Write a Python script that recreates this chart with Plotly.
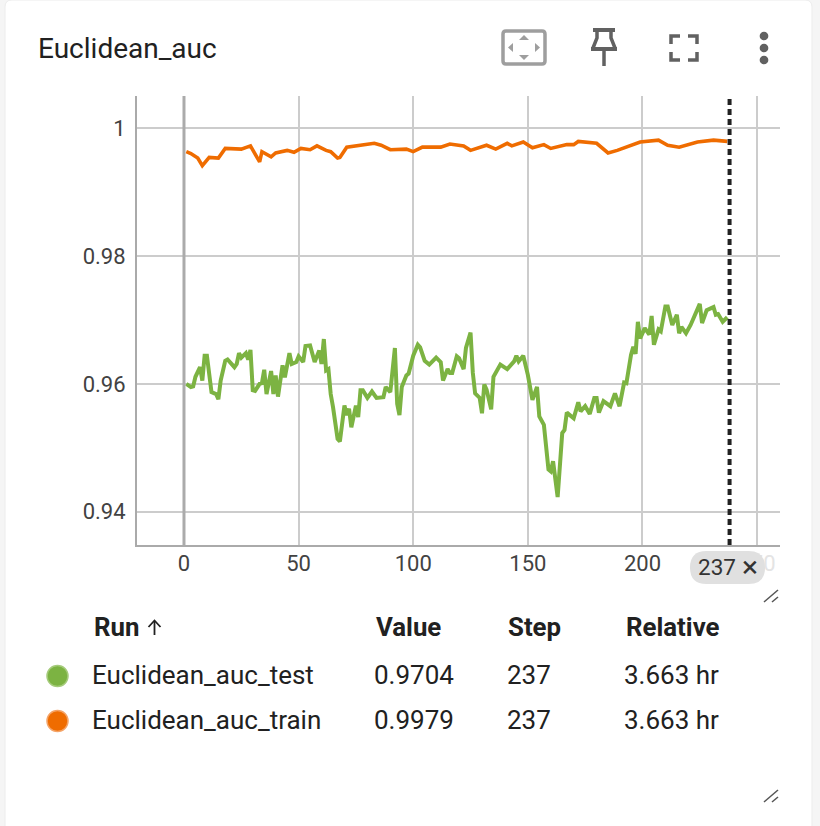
import plotly.graph_objects as go

TITLE = "Euclidean_auc"
X_TICKS = [0, 50, 100, 150, 200, 250]
Y_TICKS = [0.94, 0.96, 0.98, 1]
Y_LABELS = ["0.94", "0.96", "0.98", "1"]
CURRENT_STEP = 237
HEADERS = ["Run", "Value", "Step", "Relative"]
SORT_ARROW = "\u2191"
RUNS = ["Euclidean_auc_test", "Euclidean_auc_train"]
VALUES = ["0.9704", "0.9979"]
STEPS_TXT = ["237", "237"]
RELATIVE = ["3.663 hr", "3.663 hr"]

test_steps = [1,3,4,5,7,8,9,10,12,14,15,16,18,19,22,23,24,25,27,28,29,30,31,33,34,35,36,38,39,40,41,43,44,46,47,49,50,52,53,55,57,59,60,61,62,63,64,65,67,68,70,71,72,73,75,76,77,78,80,82,84,87,88,90,92,93,94,95,97,98,100,102,103,105,107,110,112,113,115,
              116,117,119,120,122,123,125,126,127,129,130,131,132,134,135,138,141,144,145,146,148,150,152,154,155,157,159,160,161,163,164,165,166,167,170,172,173,175,177,179,180,181,183,186,188,190,192,193,195,196,197,198,199,201,203,204,205,207,208,210,211,213,215,216,217,219,221,225,226,228,231,232,233,235,237]
test_values = [.96,.9595,.9596,.9611,.9626,.9605,.9644,.9644,.9587,.9584,.9576,.9605,.9636,.9638,.9626,.9631,.9648,.9641,.9648,.9638,.9653,.959,.9589,.96,.9601,.9622,.9584,.962,.9584,.9613,.958,.9629,.961,.9648,.9631,.9634,.9643,.9634,.9659,.966,.9634,.9652,.9631,.967,.9621,.9623,.9584,.9564,.9514,.951,.9566,.9551,.9561,.9532,.9566,.9548,.959,.959,.9578,.9588,.9578,.9579,.9595,.9587,.9656,.9569,.9551,.9595,.9613,.9616,.9644,.9661,.9657,.9636,.963,.9641,.9634,.9605,.9623,
               .9617,.9617,.9643,.964,.9623,.9656,.968,.9617,.9585,.9578,.9554,.9599,.9591,.956,.9611,.963,.9623,.9635,.9644,.9635,.9644,.9614,.9575,.9595,.9549,.9536,.9466,.9463,.9479,.9423,.9486,.9523,.9528,.9555,.9546,.9571,.9557,.9565,.9553,.9578,.9578,.9555,.9573,.9565,.9585,.9565,.9602,.9601,.9645,.9658,.9647,.9697,.9671,.9687,.9677,.9706,.9661,.9685,.9682,.9721,.9721,.9692,.9708,.9679,.9689,.9679,.9692,.9725,.9695,.9715,.972,.9708,.9709,.9697,.9704]
train_steps = [1,3,6,8,11,15,18,23,25,29,31,33,34,38,40,45,48,51,55,58,62,64,67,68,71,75,83,86,90,97,100,104,112,
               116,122,125,132,136,141,143,148,152,157,160,167,170,172,180,185,189,195,199,207,211,216,224,231,237]
train_values = [.9963,.996,.9953,.9941,.9954,.9953,.9968,.9968,.9967,.9972,.996,.9947,.9963,.9955,.9961,.9965,.9962,.9968,.9966,.9972,.9965,.9963,.9953,.9954,.997,.9972,.9976,.9973,.9966,.9967,.9963,.997,.997,
                .9975,.9972,.9965,.9973,.9967,.9976,.9972,.9978,.9969,.9974,.9968,.9974,.9974,.9979,.9976,.9961,.9965,.9973,.9978,.9981,.9973,.997,.9978,.9981,.9979]

W, H = 820, 826
GREEN = "#7CB342"
ORANGE = "#EF6C00"
FONT = "Roboto"


def px(x):
    return x / W


def py(y):
    return 1 - y / H


def text(x, y, s, size=26, color="#212121", anchor="left", bold=False):
    return dict(x=px(x), y=py(y), xref="paper", yref="paper", text=f"<b>{s}</b>" if bold else s,
                showarrow=False, xanchor=anchor, yanchor="middle",
                font=dict(family=FONT, size=size, color=color))


def path(d_pts, color, width=0, fill=None):
    d = "M" + " L".join(f"{px(a):.5f},{py(b):.5f}" for a, b in d_pts)
    if fill:
        d += " Z"
    return dict(type="path", xref="paper", yref="paper", path=d,
                line=dict(color=color, width=width), fillcolor=fill)


def rounded(x0, y0, x1, y1, r):
    a, b, c, d = px(x0), px(x1), py(y0), py(y1)
    return (f"M{px(x0 + r):.5f},{c:.5f} L{px(x1 - r):.5f},{c:.5f} Q{b:.5f},{c:.5f} {b:.5f},{py(y0 + r):.5f} "
            f"L{b:.5f},{py(y1 - r):.5f} Q{b:.5f},{d:.5f} {px(x1 - r):.5f},{d:.5f} "
            f"L{px(x0 + r):.5f},{d:.5f} Q{a:.5f},{d:.5f} {a:.5f},{py(y1 - r):.5f} "
            f"L{a:.5f},{py(y0 + r):.5f} Q{a:.5f},{c:.5f} {px(x0 + r):.5f},{c:.5f} Z")


def circle(cx, cy, r, fill, line=None):
    return dict(type="circle", xref="paper", yref="paper", x0=px(cx - r), x1=px(cx + r),
                y0=py(cy - r), y1=py(cy + r), fillcolor=fill, line=dict(color=line or fill, width=1.5))


fig = go.Figure()
fig.add_trace(go.Scatter(x=test_steps, y=test_values, mode="lines", name=RUNS[0],
                         line=dict(color=GREEN, width=4, shape="linear")))
fig.add_trace(go.Scatter(x=train_steps, y=train_values, mode="lines", name=RUNS[1],
                         line=dict(color=ORANGE, width=3.6, shape="linear")))

shapes = []
# card
shapes.append(dict(type="path", xref="paper", yref="paper", path=rounded(5, 0, 812, 846, 7),
                   fillcolor="white", line=dict(color="#ececec", width=1), layer="below"))
# zero line and current step
shapes.append(dict(type="line", xref="x", yref="paper", x0=0, x1=0, y0=py(545), y1=py(96),
                   line=dict(color="#ababab", width=3)))
shapes.append(dict(type="line", xref="x", yref="paper", x0=CURRENT_STEP + 1, x1=CURRENT_STEP + 1, y0=py(545), y1=py(96),
                   line=dict(color="#212121", width=4, dash="6px,4px")))
# chip
shapes.append(dict(type="path", xref="paper", yref="paper", path=rounded(690, 551, 765, 584, 16.5),
                   fillcolor="#e0e0e0", line=dict(width=0)))
# resize grips
for gx, gy in [(771, 596), (771, 796)]:
    shapes.append(path([(gx - 7, gy + 6), (gx + 7, gy - 6)], "#555555", 1.5))
    shapes.append(path([(gx + 1, gy + 6), (gx + 7, gy + 1)], "#555555", 1.5))
# fit icon
shapes.append(dict(type="path", xref="paper", yref="paper", path=rounded(503, 31, 545, 64, 3),
                   line=dict(color="#9e9e9e", width=3.5), fillcolor="white"))
for tri in ([(524, 35), (519, 40), (529, 40)], [(524, 60), (519, 55), (529, 55)],
            [(508, 47.5), (513, 43), (513, 52)], [(540, 47.5), (535, 43), (535, 52)]):
    shapes.append(path(tri, "#9e9e9e", 0, "#9e9e9e"))
# pin icon
shapes.append(path([(593, 30), (615, 30)], "#616161", 4))
shapes.append(path([(597, 30), (597, 38), (593, 48)], "#616161", 3.5))
shapes.append(path([(611, 30), (611, 38), (615, 48)], "#616161", 3.5))
shapes.append(path([(591, 49), (617, 49)], "#616161", 4))
shapes.append(path([(604, 49), (604, 66)], "#616161", 3.5))
# fullscreen icon
for pts in ([(671, 44), (671, 36), (680, 36)], [(688, 36), (697, 36), (697, 44)],
            [(671, 52), (671, 60), (680, 60)], [(688, 60), (697, 60), (697, 52)]):
    shapes.append(path(pts, "#616161", 3.5))
# menu dots
for cy in (36, 48, 60):
    shapes.append(circle(764, cy, 3.6, "#616161"))
# sort arrow, drawn so that it keeps the thin grey-black glyph of the reference
shapes.append(path([(154.5, 635), (154.5, 621)], "#212121", 1.8))
shapes.append(path([(148.5, 627), (154.5, 620.5), (160.5, 627)], "#212121", 1.8))
# run swatches
shapes.append(circle(57.5, 676, 10.5, GREEN, "#a5cb7b"))
shapes.append(circle(57.5, 721, 10.5, ORANGE, "#f4a468"))

ann = [text(36, 49, TITLE, 28)]
ann.append(text(92, 627, HEADERS[0], 25.8, bold=True))
ann.append(text(374, 627, HEADERS[1], 25.8, bold=True))
ann.append(text(506, 627, HEADERS[2], 25.8, bold=True))
ann.append(text(624, 627, HEADERS[3], 25.8, bold=True))
for i, cy in enumerate((675, 720)):
    ann.append(text(90, cy, RUNS[i], 26))
    ann.append(text(372, cy, VALUES[i], 26))
    ann.append(text(505, cy, STEPS_TXT[i], 26))
    ann.append(text(622, cy, RELATIVE[i], 26))
ann.append(text(696, 567, str(CURRENT_STEP), 22.5, "#333333"))
ann.append(text(750, 566, "\u00d7", 30, "#333333", anchor="center"))

x_labels = [str(v) for v in X_TICKS[:-1]] + ['<span style="color:#e4e4e4">250</span>']

fig.update_layout(
    width=W, height=H, autosize=False,
    margin=dict(l=0, r=0, t=0, b=0),
    paper_bgcolor="#f5f5f5", plot_bgcolor="white",
    showlegend=False,
    font=dict(family=FONT, size=22, color="#424242"),
    xaxis=dict(domain=[px(137), px(780)], range=[-20.5, 260], tickvals=X_TICKS, ticktext=x_labels,
               showgrid=True, gridcolor="#cccccc", gridwidth=2, zeroline=False,
               showline=True, linecolor="#aaaaaa", linewidth=2, ticks="outside", ticklen=1,
               ticklabelstandoff=-3,
               tickcolor="rgba(0,0,0,0)", tickfont=dict(size=22, color="#424242")),
    yaxis=dict(domain=[py(545), py(96)], range=[0.9348, 1.005], tickvals=Y_TICKS, ticktext=Y_LABELS,
               showgrid=True, gridcolor="#cccccc", gridwidth=2, zeroline=False,
               showline=True, linecolor="#aaaaaa", linewidth=2, ticks="outside", ticklen=5,
               tickcolor="rgba(0,0,0,0)", tickfont=dict(size=22, color="#424242")),
    shapes=shapes, annotations=ann,
)
fig.write_html("out.html", config={"displayModeBar": False},
               post_script="document.body.style.margin='0';document.documentElement.style.overflow='hidden';")
